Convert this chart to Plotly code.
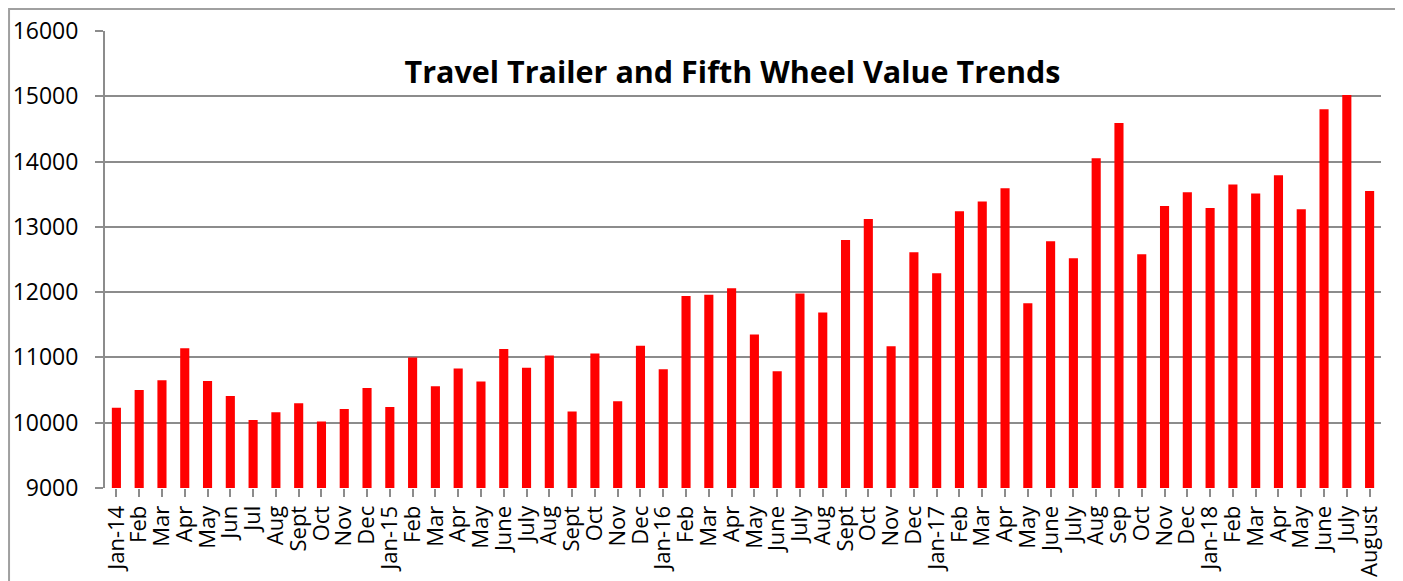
import plotly.graph_objects as go

categories = [
    "Jan-14", "Feb", "Mar", "Apr", "May", "Jun", "Jul", "Aug", "Sept", "Oct", "Nov", "Dec",
    "Jan-15", "Feb", "Mar", "Apr", "May", "June", "July", "Aug", "Sept", "Oct", "Nov", "Dec",
    "Jan-16", "Feb", "Mar", "Apr", "May", "June", "July", "Aug", "Sept", "Oct", "Nov", "Dec",
    "Jan-17", "Feb", "Mar", "Apr", "May", "June", "July", "Aug", "Sep", "Oct", "Nov", "Dec",
    "Jan-18", "Feb", "Mar", "Apr", "May", "June", "July", "August",
]
values = [
    10230, 10500, 10650, 11140, 10640, 10410, 10040, 10160, 10300, 10020, 10210, 10530,
    10240, 11000, 10560, 10830, 10630, 11130, 10840, 11030, 10170, 11060, 10330, 11180,
    10820, 11940, 11960, 12060, 11350, 10790, 11980, 11690, 12800, 13120, 11170, 12610,
    12290, 13240, 13390, 13590, 11830, 12780, 12520, 14050, 14590, 12580, 13320, 13530,
    13290, 13650, 13510, 13790, 13270, 14800, 15020, 13550,
]
title_text = "Travel Trailer and Fifth Wheel Value Trends"
y_ticks = [9000, 10000, 11000, 12000, 13000, 14000, 15000, 16000]
y_tick_labels = [str(v) for v in y_ticks]

idx = list(range(len(categories)))

fig = go.Figure(go.Bar(x=idx, y=values, marker=dict(color="#FF0000", line=dict(width=0))))

grid = "#8c8c8c"
fig.update_layout(
    template="none",
    width=1395, height=573,
    margin=dict(l=97, r=22, t=23, b=93, autoexpand=False),
    paper_bgcolor="white", plot_bgcolor="white",
    bargap=0.6,
    showlegend=False,
    font=dict(family="Open Sans, sans-serif", color="black"),
    title=dict(text="<b>" + title_text + "</b>", x=0.4918, xref="paper", xanchor="center",
               y=0.8883, yref="container", yanchor="middle",
               font=dict(size=30.5, color="black", family="Open Sans, sans-serif")),
    xaxis=dict(
        tickmode="array", tickvals=idx, ticktext=categories, tickangle=-90,
        tickfont=dict(size=22, family="Open Sans, sans-serif", color="black"),
        range=[-0.5, len(categories) - 0.5],
        ticks="outside", ticklen=8, tickcolor=grid, tickwidth=2, tickson="boundaries",
        showgrid=False, showline=False, zeroline=False, automargin=False,
    ),
    yaxis=dict(
        range=[9000, 16000], tickmode="array", tickvals=y_ticks, ticktext=y_tick_labels,
        tickfont=dict(size=23, family="Open Sans, sans-serif", color="black"),
        ticks="outside", ticklen=8, tickcolor=grid, tickwidth=2,
        showgrid=True, gridcolor=grid, gridwidth=2,
        showline=True, linecolor=grid, linewidth=2, zeroline=False,
        ticklabelstandoff=12, automargin=False,
    ),
    shapes=[dict(type="rect", xref="paper", yref="paper",
                 x0=-0.0752, x1=1.0133, y0=-0.4, y1=1.048,
                 line=dict(color="#a0a0a0", width=2), fillcolor="rgba(0,0,0,0)", layer="below")],
)

fig.write_html("out.html")
